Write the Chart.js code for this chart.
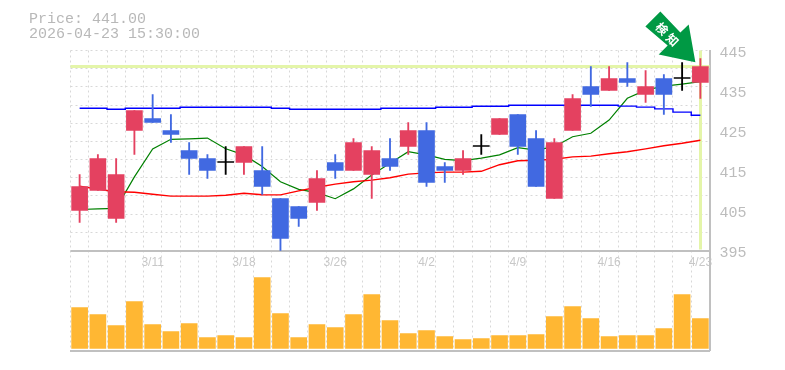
<!DOCTYPE html>
<html>
<head>
<meta charset="utf-8">
<style>html,body{margin:0;padding:0;background:#fff}canvas{display:block}</style>
<script src="https://cdn.jsdelivr.net/npm/chart.js@4"></script>
</head>
<body>
<canvas id="c" width="785" height="370"></canvas>
<script>
const dates = ['3/5','3/6','3/9','3/10','3/11','3/12','3/13','3/16','3/17','3/18','3/19','3/23','3/24','3/25','3/26','3/27','3/30','3/31','4/1','4/2','4/3','4/6','4/7','4/8','4/9','4/10','4/13','4/14','4/15','4/16','4/17','4/20','4/21','4/22','4/23'];
const shownDates = ['3/11','3/18','3/26','4/2','4/9','4/16','4/23'];
const priceTicks = [395,405,415,425,435,445];
const opens  = [405,410,403,425,428,425,420,418,417,417,415,408,406,407,417,415,414,418,421,425,416,415,421,424,429,423,408,425,436,435,438,434,438,438,437];
const closes = [411,418,414,430,427,424,418,415,417,421,411,398,403,413,415,422,420,416,425,412,415,418,421,428,421,411,422,433,434,438,437,436,434,438,441];
const highs  = [414,419,418,430,434,429,422,419,421,421,421,408,406,415,419,423,421,423,427,427,417,420,424,428,429,425,423,434,441,441,442,440,439,442,443];
const lows   = [402,410,402,419,427,422,414,413,414,414,409,395,401,405,413,415,408,415,419,411,412,414,419,424,419,411,408,425,431,435,436,432,429,435,433];
const maShort = [405.25,405.4,405.55,413.4,420.4,422.8,422.9,423.1,420.45,418.9,416,412.2,410.3,409.45,407.95,410.4,413.9,416.8,419.7,418.9,417.8,417.45,418.1,418.9,420.7,420.1,420.95,423.45,424.3,427.6,433.05,435.1,436.1,436.6,437.2];
const maMid = [411.1,410.3,409.7,409.55,409.05,408.6,408.6,408.6,408.8,409.3,408.95,408.9,409.9,410.8,411.6,412.2,412.6,413.2,414.1,414.4,414.6,414.6,414.8,416.45,417.45,417.55,417.8,418.4,418.6,419.2,419.7,420.4,421.2,421.8,422.55];
const maLong = [430.55,430.55,430.3,430.55,430.55,430.55,430.8,430.8,430.8,430.8,430.8,430.55,430.3,430.3,430.3,430.3,430.3,430.55,430.55,430.55,430.8,430.8,431.05,431.05,431.3,431.3,431.3,431.3,431.3,431.3,431.1,430.85,430.4,429.6,428.8];
const volumes = [41,34,23,47,24,17,25,11,13,11,71,35,11,24,21,34,54,28,15,18,12,9,10,13,13,14,32,42,30,12,13,13,20,54,30];
const titleLines = ['Price: 441.00','2026-04-23 15:30:00'];
const badgeText = ['検','知'];

const UP='#E44160', DOWN='#4169E1', FLAT='#000000';
const candleColor = opens.map((o,i)=> closes[i]>o ? UP : closes[i]<o ? DOWN : FLAT);

const furniture = {
  id:'furniture',
  beforeDatasetsDraw(chart){
    const {ctx,chartArea:a,scales:{x,y}}=chart, n=closes.length-1;
    const px=x.getPixelForValue(n), py=y.getPixelForValue(closes[n]);
    ctx.save();
    ctx.fillStyle='#E4F5A9';
    ctx.fillRect(a.left,Math.round(py)-2,a.right-a.left,3);
    ctx.fillRect(Math.round(px)-1,a.top,3,y.getPixelForValue(priceTicks[0])-a.top-1);
    ctx.restore();
  },
  afterDraw(chart){
    const {ctx,scales:{x,y}}=chart, n=closes.length-1;
    ctx.save();
    ctx.font='15px "Liberation Mono"';
    ctx.fillStyle='#B8B8B8';
    ctx.textBaseline='alphabetic';
    titleLines.forEach((t,i)=>ctx.fillText(t,29,23+i*15));
    const tx=x.getPixelForValue(n)-5, ty=y.getPixelForValue(highs[n])+3.7;
    const shape=[[0,0],[-36.7,-7.7],[-27.7,-16.7],[-50,-35.7],[-35,-50.7],[-15,-29.7],[-6.7,-37.7]];
    ctx.fillStyle='#009944';
    ctx.beginPath();
    shape.forEach((p,i)=>{ i?ctx.lineTo(tx+p[0],ty+p[1]):ctx.moveTo(tx+p[0],ty+p[1]); });
    ctx.closePath(); ctx.fill();
    ctx.fillStyle='#FFFFFF';
    ctx.font='bold 12px "Noto Sans CJK JP"';
    ctx.textAlign='center'; ctx.textBaseline='middle';
    [[-33.5,-33.5],[-23,-22.5]].forEach((o,i)=>{
      ctx.save();
      ctx.translate(tx+o[0],ty+o[1]);
      ctx.rotate(Math.PI/4);
      ctx.fillText(badgeText[i],0,0);
      ctx.restore();
    });
    ctx.restore();
  }
};

function line(data,color,width,extra){
  return Object.assign({type:'line',data,borderColor:color,borderWidth:width,pointRadius:0,tension:0,yAxisID:'y',order:5},extra||{});
}

new Chart(document.getElementById('c'),{
  data:{
    labels:dates,
    datasets:[
      {type:'bar',data:volumes,backgroundColor:'#FFB733',barThickness:16,grouped:false,yAxisID:'v',order:6},
      line(maLong,'#0000FF',1.4,{stepped:'middle'}),
      line(maMid,'#FF0000',1.4),
      line(maShort,'#008000',1.2),
      {type:'bar',data:highs.map((h,i)=>[lows[i],h]),backgroundColor:candleColor,barThickness:1.2,grouped:false,yAxisID:'y',order:2},
      {type:'bar',data:opens.map((o,i)=>[o,closes[i]]),backgroundColor:candleColor,barThickness:16,minBarLength:1,grouped:false,yAxisID:'y',order:1}
    ]
  },
  plugins:[furniture],
  options:{
    responsive:false,animation:false,
    layout:{padding:{top:50.5,left:70.5,right:0,bottom:0}},
    plugins:{legend:{display:false},tooltip:{enabled:false},title:{display:false}},
    scales:{
      x:{
        type:'category',offset:true,
        afterFit(s){s.height=19.5;s.paddingLeft=0;s.paddingRight=0;},
        grid:{offset:true,color:'#D8D8D8',lineWidth:1,drawTicks:false},
        border:{color:'#C0C0C0',width:2,dash:[2,3]},
        ticks:{autoSkip:false,maxRotation:0,minRotation:0,mirror:true,padding:81,color:'#C8C8C8',
          font:{family:'"Liberation Sans"',size:12},
          callback(v){const l=this.getLabelForValue(v);return shownDates.includes(l)?l:'';}}
      },
      y:{
        position:'right',min:370,max:445,
        afterBuildTicks(s){s.ticks=priceTicks.map(v=>({value:v}));},
        afterFit(s){s.width=75.5;},
        grid:{display:false,drawTicks:false},
        border:{display:true,color:'#C0C0C0',width:2},
        ticks:{padding:10,labelOffset:3,color:'#BCBCBC',font:{family:'"Liberation Mono"',size:15}}
      },
      yg:{
        position:'right',reverse:true,min:0,max:16.5,
        afterBuildTicks(s){s.ticks=[0,1,2,3,4,5,6,7,8,9,10,11].map(v=>({value:v}));},
        afterFit(s){s.width=0;},
        grid:{drawTicks:false,color:c=>c.tick&&c.tick.value===11?'#C0C0C0':'#D8D8D8',lineWidth:c=>c.tick&&c.tick.value===11?2:1},
        border:{display:false,dash:c=>c.tick&&c.tick.value===11?[]:[2,3]},
        ticks:{display:false}
      },
      v:{display:false,min:-2,max:298}
    }
  }
});
</script>
</body>
</html>
